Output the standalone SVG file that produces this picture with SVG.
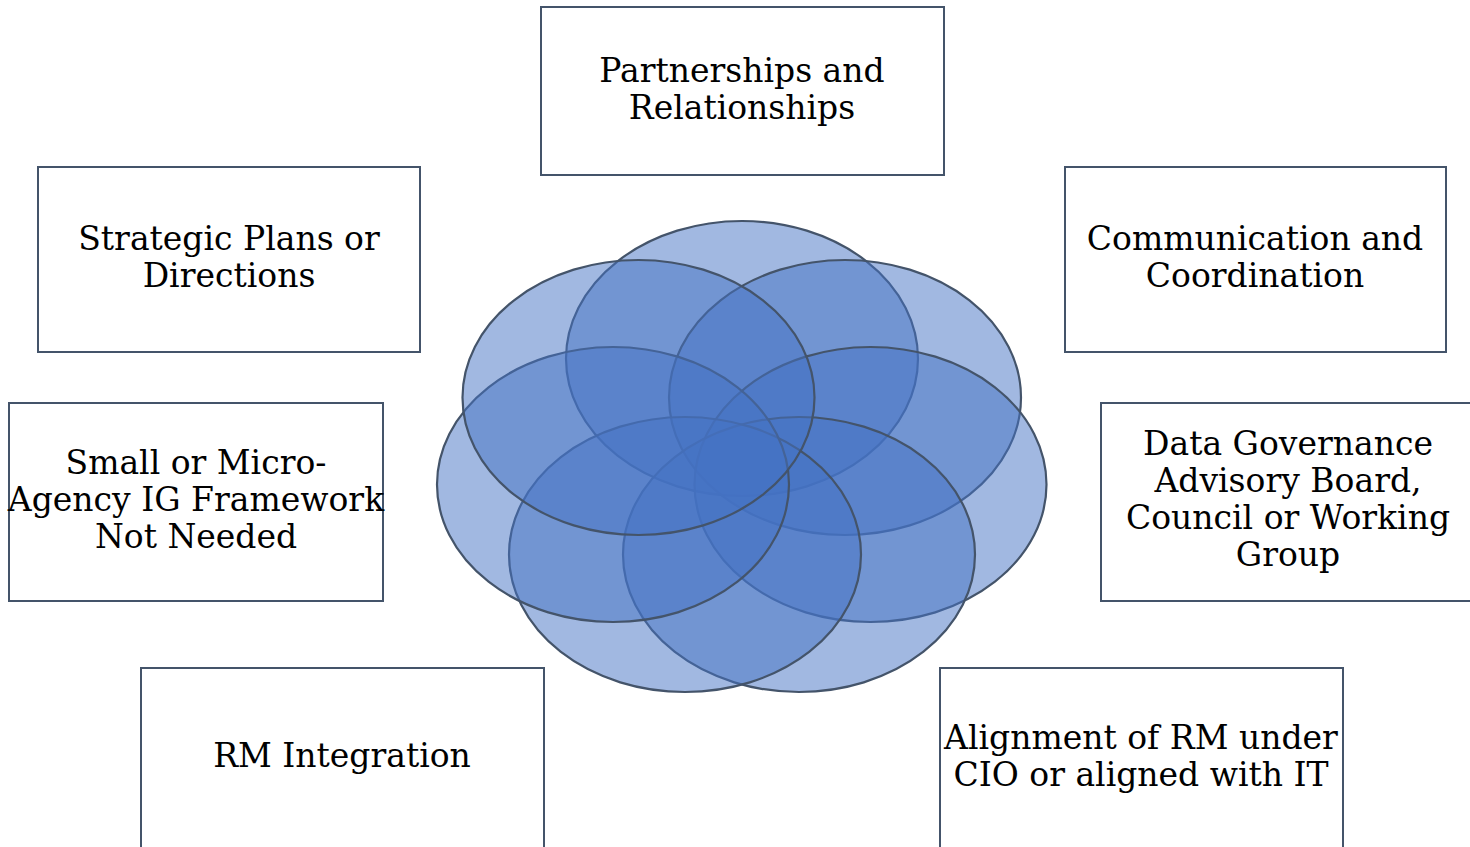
<svg xmlns="http://www.w3.org/2000/svg" width="1470" height="847" viewBox="0 0 1470 847">
<style>
.box{fill:#fff;stroke:#44546A;stroke-width:2}
.lbl{font-family:"DejaVu Serif","Liberation Serif",serif;font-size:33px;fill:#000;text-anchor:middle}
.pet{fill:#4472C4;fill-opacity:0.5;stroke:#44546A;stroke-width:2.2}
</style>
<rect width="1470" height="847" fill="#fff"/>
<g id="flower">
<ellipse class="pet" cx="742" cy="358.5" rx="176" ry="137.5"/>
<ellipse class="pet" cx="845" cy="397.5" rx="176" ry="137.5"/>
<ellipse class="pet" cx="870.5" cy="484.5" rx="176" ry="137.5"/>
<ellipse class="pet" cx="799" cy="554.5" rx="176" ry="137.5"/>
<ellipse class="pet" cx="685" cy="554.5" rx="176" ry="137.5"/>
<ellipse class="pet" cx="613" cy="484.5" rx="176" ry="137.5"/>
<ellipse class="pet" cx="638.5" cy="397.5" rx="176" ry="137.5"/>
</g>
<g id="connectors"></g>
<g id="partnerships">
<rect class="box" x="541" y="7" width="403" height="168"/>
<text class="lbl" x="742" y="82">Partnerships and</text>
<text class="lbl" x="742" y="119">Relationships</text>
</g>
<g id="strategic">
<rect class="box" x="38" y="167" width="382" height="185"/>
<text class="lbl" x="229" y="250">Strategic Plans or</text>
<text class="lbl" x="229" y="287">Directions</text>
</g>
<g id="communication">
<rect class="box" x="1065" y="167" width="381" height="185"/>
<text class="lbl" x="1255" y="250">Communication and</text>
<text class="lbl" x="1255" y="287">Coordination</text>
</g>
<g id="small">
<rect class="box" x="9" y="403" width="374" height="198"/>
<text class="lbl" x="196" y="474">Small or Micro-</text>
<text class="lbl" x="196" y="511">Agency IG Framework</text>
<text class="lbl" x="196" y="548">Not Needed</text>
</g>
<g id="datagov">
<rect class="box" x="1101" y="403" width="380" height="198"/>
<text class="lbl" x="1288" y="455">Data Governance</text>
<text class="lbl" x="1288" y="492">Advisory Board,</text>
<text class="lbl" x="1288" y="529">Council or Working</text>
<text class="lbl" x="1288" y="566">Group</text>
</g>
<g id="rmintegration">
<rect class="box" x="141" y="668" width="403" height="200"/>
<text class="lbl" x="342" y="767">RM Integration</text>
</g>
<g id="alignment">
<rect class="box" x="940" y="668" width="403" height="200"/>
<text class="lbl" x="1141" y="749">Alignment of RM under</text>
<text class="lbl" x="1141" y="786">CIO or aligned with IT</text>
</g>
</svg>
